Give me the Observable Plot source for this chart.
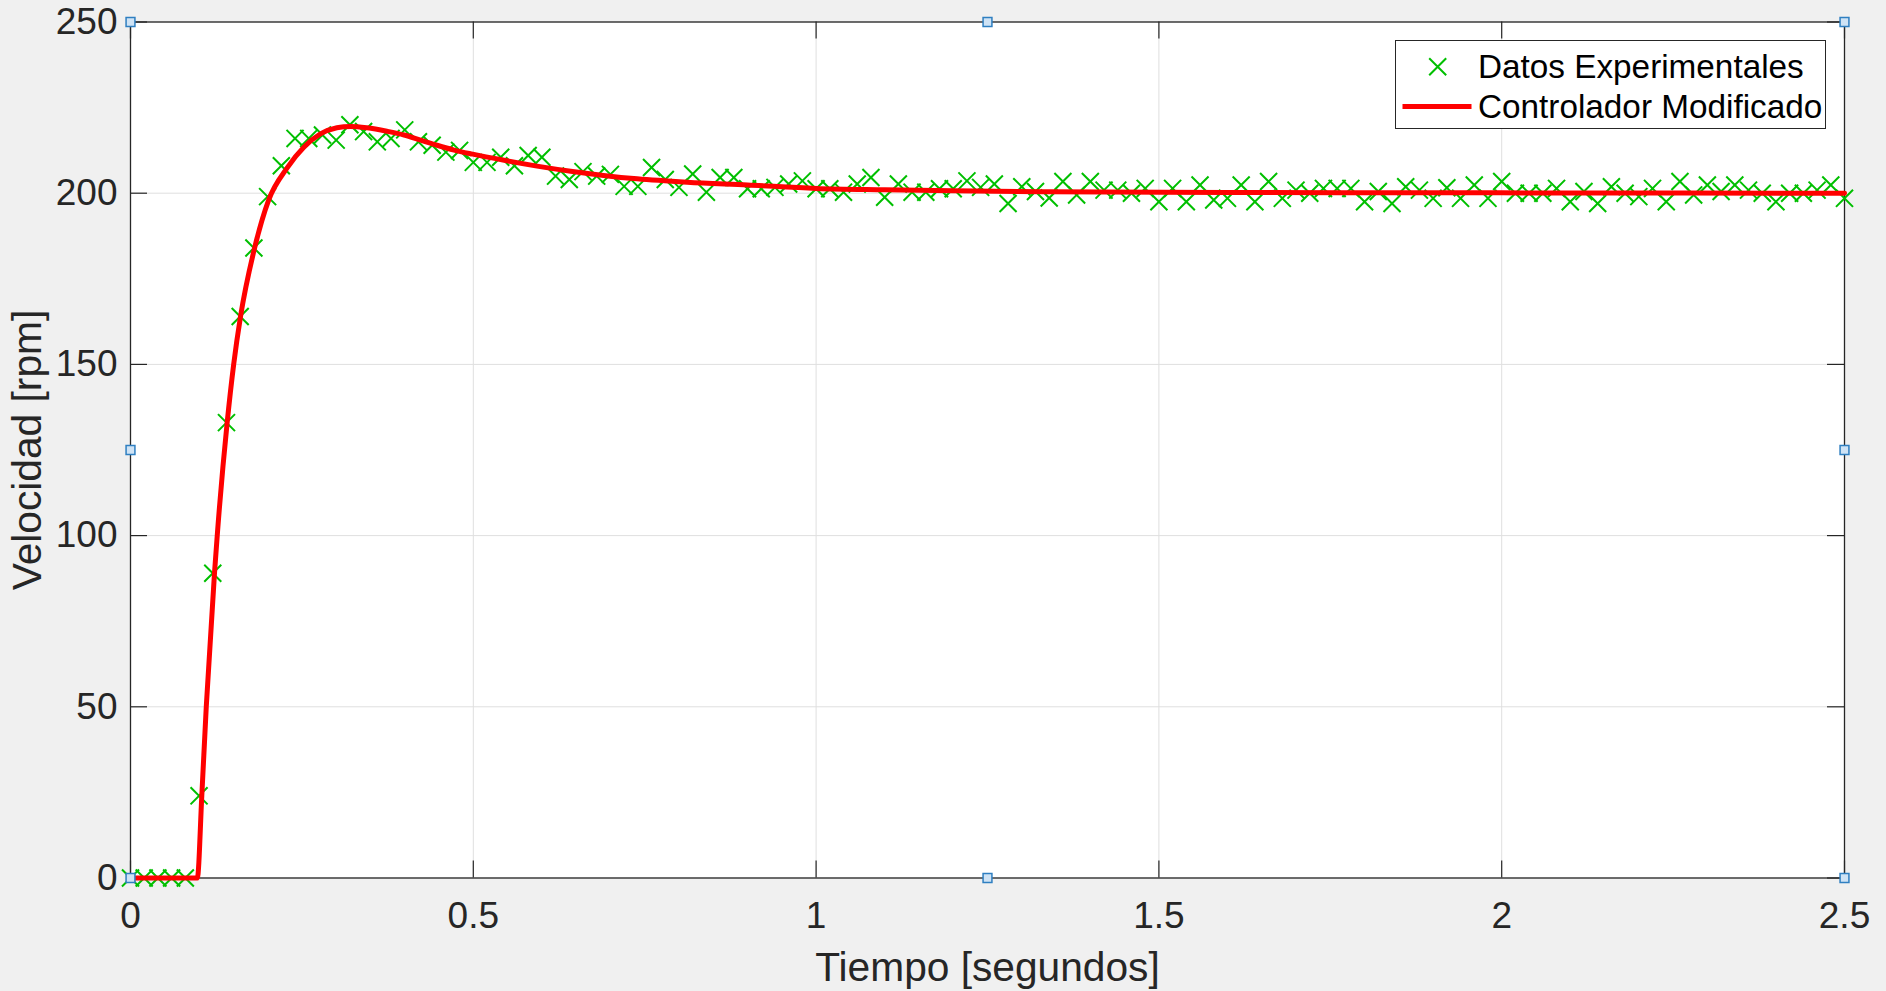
<!DOCTYPE html>
<html><head><meta charset="utf-8">
<script src="https://cdn.jsdelivr.net/npm/d3@7"></script>
<script src="https://cdn.jsdelivr.net/npm/@observablehq/plot@0.6"></script>
<style>
html,body{margin:0;padding:0;background:#f0f0f0;overflow:hidden;}
#wrap{position:relative;width:1886px;height:991px;}
#legend{position:absolute;left:1395px;top:40px;width:431px;height:89px;box-sizing:border-box;background:#fff;border:1px solid #262626;font-family:"Liberation Sans",Arial,Helvetica,sans-serif;font-size:33.3px;color:#000;}
#legend .txt{position:absolute;left:82px;height:40px;line-height:40px;white-space:nowrap;}
#legend svg{position:absolute;left:0;top:0;}
</style></head><body><div id="wrap"></div>
<script>
// ---- data ----
const tiempo = [
0,0.02,0.04,0.06,0.08,0.1,0.12,0.14,0.16,0.18,
0.2,0.22,0.24,0.26,0.28,0.3,0.32,0.34,0.36,0.38,
0.4,0.42,0.44,0.46,0.48,0.5,0.52,0.54,0.56,0.58,
0.6,0.62,0.64,0.66,0.68,0.7,0.72,0.74,0.76,0.78,
0.8,0.82,0.84,0.86,0.88,0.9,0.92,0.94,0.96,0.98,
1,1.02,1.04,1.06,1.08,1.1,1.12,1.14,1.16,1.18,
1.2,1.22,1.24,1.26,1.28,1.3,1.32,1.34,1.36,1.38,
1.4,1.42,1.44,1.46,1.48,1.5,1.52,1.54,1.56,1.58,
1.6,1.62,1.64,1.66,1.68,1.7,1.72,1.74,1.76,1.78,
1.8,1.82,1.84,1.86,1.88,1.9,1.92,1.94,1.96,1.98,
2,2.02,2.04,2.06,2.08,2.1,2.12,2.14,2.16,2.18,
2.2,2.22,2.24,2.26,2.28,2.3,2.32,2.34,2.36,2.38,
2.4,2.42,2.44,2.46,2.48,2.5];
const velocidad = [
0,0,0,0,0,24,89,133,164,184,
199,208,216,216,217,215.5,220,218,215,216,
218.5,215,214,212,212.5,209,209,210.5,208,211,
210.5,205,204,206.3,205,205.5,202,202,207.5,204,
201.7,205.6,200.3,204.6,204.6,201.3,201.3,201.7,202.7,203.6,
201.3,201.3,200.3,202.7,204.6,198.8,202.7,200.3,200.3,201.3,
201.3,203.6,201.7,202.7,197,201.9,200.5,198.6,203.4,199.5,
203.4,200.9,200.9,200,201.4,197.5,201.4,197.5,202.4,198,
198.5,202.4,197.5,203.4,198.5,200.9,200,201.4,201.4,201.4,
197.5,200.5,197,201.9,200.9,198.5,201.6,198.5,202.4,198.5,
203.4,200,200,200,201.4,197.5,200.5,197,201.9,200,
199,201.4,197.5,203.4,199.5,202.4,200.5,202.4,200.9,200,
197.5,200,200,200.9,202.4,198.5];
const curvaT = [0,0.0975,0.104,0.1105,0.1225,0.1265,0.141,0.1505,0.1605,0.181,0.2015,0.2285,0.2528,0.277,0.301,0.321,0.345,0.374,0.399,0.423,0.447,0.472,0.499,0.545,0.593,0.642,0.69,0.739,0.812,0.9,1.0,1.1,1.2,1.34,1.6,2.0,2.5];
const curvaV = [0,0,24,50,89,100,133,150,164,184,198,207.4,213.4,217.3,219.1,219.5,219.1,218.1,217,215.5,214,212.6,211.4,209.6,207.9,206.4,205.2,204.2,203.2,202.4,201.4,201,200.7,200.4,200.2,200.1,200];
const xTicks = [0,0.5,1,1.5,2,2.5];
const yTicks = [0,50,100,150,200,250];
const handleT = [0,1.25,2.5,0,2.5,0,1.25,2.5];
const handleV = [250,250,250,125,125,0,0,0];
const xLabel = "Tiempo [segundos]";
const yLabel = "Velocidad [rpm]";
const seriesNames = ["Datos Experimentales","Controlador Modificado"];

// ---- layout ----
const W = 1886, H = 991;
const mL = 130, mR = 42, mT = 21.5, mB = 113.5;
const pw = W - mL - mR, ph = H - mT - mB;
const TL = 17;
const axisColor = "#262626";
const green = "#00bf00";
const FONT = "'Liberation Sans', Arial, Helvetica, sans-serif";

const puntos = tiempo.map((t,i) => ({t, v: velocidad[i]}));
const curva = curvaT.map((t,i) => ({t, v: curvaV[i]}));
const handles = handleT.map((t,i) => ({t, v: handleV[i]}));

const chart = Plot.plot({
  width: W, height: H,
  marginLeft: mL, marginRight: mR, marginTop: mT, marginBottom: mB,
  style: {background: "transparent", fontFamily: FONT, overflow: "visible"},
  x: {domain: [0, 2.5], axis: null},
  y: {domain: [0, 250], axis: null},
  marks: [
    Plot.frame({fill: "white", stroke: null}),
    Plot.gridX(xTicks, {x: d => d, stroke: "#dfdfdf", strokeOpacity: 1, strokeWidth: 1}),
    Plot.gridY(yTicks, {y: d => d, stroke: "#dfdfdf", strokeOpacity: 1, strokeWidth: 1}),
    Plot.tickX(xTicks, {x: d => d, stroke: axisColor, strokeWidth: 1.2, insetTop: ph - TL}),
    Plot.tickX(xTicks, {x: d => d, stroke: axisColor, strokeWidth: 1.2, insetBottom: ph - TL}),
    Plot.tickY(yTicks, {y: d => d, stroke: axisColor, strokeWidth: 1.2, insetRight: pw - TL}),
    Plot.tickY(yTicks, {y: d => d, stroke: axisColor, strokeWidth: 1.2, insetLeft: pw - TL}),
    Plot.frame({stroke: axisColor, strokeWidth: 1.3}),
    Plot.axisX(xTicks, {tickSize: 0, tickPadding: 24, fontSize: 37, color: axisColor, tickFormat: d => String(d), label: null}),
    Plot.axisY(yTicks, {tickSize: 0, tickPadding: 13, fontSize: 37, color: axisColor, tickFormat: d => String(d), label: null}),
    Plot.dot(puntos, {x: "t", y: "v", symbol: "times", r: 7.8, stroke: green, strokeWidth: 2}),
    Plot.line(curva, {x: "t", y: "v", stroke: "#ff0000", strokeWidth: 5, curve: "monotone-x"}),
    Plot.dot(handles, {x: "t", y: "v", symbol: "square", r: 5, fill: "#cfe3f5", stroke: "#2f7fc1", strokeWidth: 1.5}),
    Plot.text([xLabel], {frameAnchor: "bottom", lineAnchor: "bottom", dy: 102.5, fontSize: 40.7, fill: axisColor}),
    Plot.text([yLabel], {frameAnchor: "left", textAnchor: "middle", lineAnchor: "bottom", rotate: -90, dx: -90, fontSize: 40.7, fill: axisColor})
  ]
});
const wrap = document.getElementById("wrap");
wrap.appendChild(chart);

// ---- legend ----
const lg = document.createElement("div");
lg.id = "legend";
lg.innerHTML = `
<svg width="431" height="89">
  <path d="M33.2,17.2 L50.2,34.2 M33.2,34.2 L50.2,17.2" stroke="${green}" stroke-width="2" fill="none"/>
  <line x1="6.5" y1="65.5" x2="75.5" y2="65.5" stroke="#ff0000" stroke-width="5"/>
</svg>
<div class="txt" style="top:5.5px">${seriesNames[0]}</div>
<div class="txt" style="top:45.5px">${seriesNames[1]}</div>`;
wrap.appendChild(lg);
</script>
</body></html>
